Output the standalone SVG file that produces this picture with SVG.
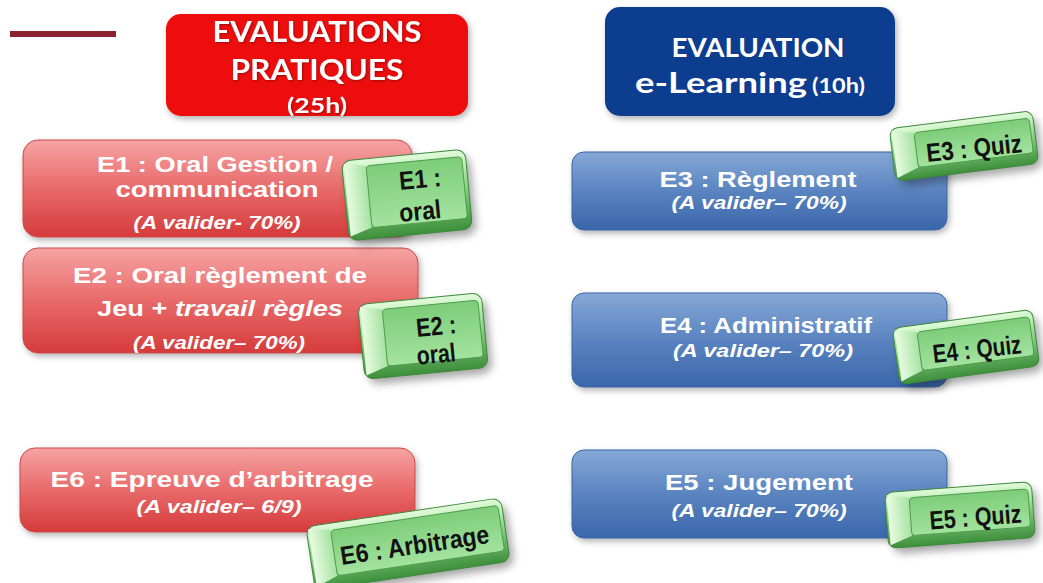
<svg xmlns="http://www.w3.org/2000/svg" width="1043" height="583" viewBox="0 0 1043 583">
<defs>
<style>
.hd{font-family:Lato,"Open Sans","Liberation Sans",sans-serif;font-weight:bold;fill:#fff;text-anchor:middle}
.mt{font-family:"Liberation Sans",Arial,sans-serif;font-weight:bold;fill:#fff;text-anchor:middle;font-size:22px}
.it{font-family:"Liberation Sans",Arial,sans-serif;font-weight:bold;font-style:italic;fill:#fff;text-anchor:middle;font-size:19px}
.kt{font-family:"Liberation Sans Narrow","Liberation Sans",Arial,sans-serif;font-weight:bold;fill:#111;text-anchor:middle;font-size:26px}
.rb{fill:url(#redG);stroke:#c94a4a;stroke-width:1}
.bb{fill:url(#bluG);stroke:#3a64a6;stroke-width:1}
.kb{fill:url(#kBody);stroke:#3d8a3b;stroke-width:1}
.kf{fill:url(#kFace);stroke:#4f9c4c;stroke-width:1}
.kl{fill:url(#kLeft)}
.ks{fill:#000;opacity:.35}
</style>
<linearGradient id="redG" x1="0" y1="0" x2="0" y2="1">
<stop offset="0" stop-color="#f6a3a3"/><stop offset="0.5" stop-color="#e86a6a"/><stop offset="1" stop-color="#d63b3b"/>
</linearGradient>
<linearGradient id="bluG" x1="0" y1="0" x2="0" y2="1">
<stop offset="0" stop-color="#86a8d6"/><stop offset="0.5" stop-color="#5a84c0"/><stop offset="1" stop-color="#3a66ab"/>
</linearGradient>
<linearGradient id="kBody" x1="0" y1="0" x2="0" y2="1">
<stop offset="0" stop-color="#e4fbdd"/><stop offset="0.3" stop-color="#a3e69e"/><stop offset="1" stop-color="#3e8f3c"/>
</linearGradient>
<linearGradient id="kFace" x1="0" y1="0" x2="0" y2="1">
<stop offset="0" stop-color="#7dcd79"/><stop offset="1" stop-color="#a3e39f"/>
</linearGradient>
<linearGradient id="kLeft" x1="0" y1="0" x2="1" y2="0">
<stop offset="0" stop-color="#e8fce2"/><stop offset="1" stop-color="#a6e2a1"/>
</linearGradient>
<filter id="sh" x="-10%" y="-10%" width="120%" height="130%">
<feDropShadow dx="2" dy="3" stdDeviation="3" flood-color="#000" flood-opacity="0.3"/>
</filter>
<filter id="blur" x="-20%" y="-30%" width="140%" height="160%">
<feGaussianBlur stdDeviation="4"/>
</filter>
<filter id="tsh" x="-5%" y="-20%" width="110%" height="140%">
<feDropShadow dx="1" dy="1" stdDeviation="0.8" flood-color="#000" flood-opacity="0.35"/>
</filter>
</defs>
<rect width="1043" height="583" fill="#fff"/>
<rect x="10" y="31" width="106" height="6" fill="#8b2332"/>

<g id="header-pratiques">
<rect x="166" y="14" width="302" height="102" rx="15" fill="#ee0808" filter="url(#sh)"/>
<g filter="url(#tsh)">
<text class="hd" x="317" y="42" font-size="28" textLength="209" lengthAdjust="spacingAndGlyphs">EVALUATIONS</text>
<text class="hd" x="317" y="80" font-size="28" textLength="173" lengthAdjust="spacingAndGlyphs">PRATIQUES</text>
<text class="hd" x="317" y="113" font-size="21" textLength="60" lengthAdjust="spacingAndGlyphs">(25h)</text>
</g>
</g>

<g id="header-elearning">
<rect x="605" y="7" width="290" height="109" rx="15" fill="#0c3c8f" filter="url(#sh)"/>
<text class="hd" x="758" y="57" font-size="27" textLength="173" lengthAdjust="spacingAndGlyphs">EVALUATION</text>
<text class="hd" x="721" y="93" font-size="29" textLength="172" lengthAdjust="spacingAndGlyphs">e-Learning</text>
<text class="hd" x="838.5" y="93" font-size="20" textLength="53" lengthAdjust="spacingAndGlyphs">(10h)</text>
</g>

<g id="E1">
<rect class="rb" x="23" y="140" width="389" height="97" rx="15" filter="url(#sh)"/>
<text class="mt" x="215" y="172" textLength="236" lengthAdjust="spacingAndGlyphs">E1 : Oral Gestion /</text>
<text class="mt" x="217" y="197" textLength="203" lengthAdjust="spacingAndGlyphs">communication</text>
<text class="it" x="217" y="229" textLength="167" lengthAdjust="spacingAndGlyphs">(A valider- 70%)</text>
</g>

<g id="E2">
<rect class="rb" x="23" y="248" width="395" height="105" rx="15" filter="url(#sh)"/>
<text class="mt" x="220" y="283" textLength="294" lengthAdjust="spacingAndGlyphs">E2 : Oral règlement de</text>
<text class="mt" x="220" y="316" textLength="246" lengthAdjust="spacingAndGlyphs">Jeu + <tspan font-style="italic">travail règles</tspan></text>
<text class="it" x="219" y="349" textLength="172" lengthAdjust="spacingAndGlyphs">(A valider– 70%)</text>
</g>

<g id="E6">
<rect class="rb" x="20" y="448" width="395" height="84" rx="15" filter="url(#sh)"/>
<text class="mt" x="212" y="487" textLength="323" lengthAdjust="spacingAndGlyphs">E6 : Epreuve d’arbitrage</text>
<text class="it" x="219" y="513" textLength="165" lengthAdjust="spacingAndGlyphs">(A valider– 6/9)</text>
</g>

<g id="E3">
<rect class="bb" x="572" y="152" width="375" height="78" rx="12" filter="url(#sh)"/>
<text class="mt" x="758" y="187" textLength="197" lengthAdjust="spacingAndGlyphs">E3 : Règlement</text>
<text class="it" x="759" y="209" textLength="175" lengthAdjust="spacingAndGlyphs">(A valider– 70%)</text>
</g>

<g id="E4">
<rect class="bb" x="572" y="293" width="375" height="94" rx="12" filter="url(#sh)"/>
<text class="mt" x="766" y="333" textLength="212" lengthAdjust="spacingAndGlyphs">E4 : Administratif</text>
<text class="it" x="763" y="357" textLength="180" lengthAdjust="spacingAndGlyphs">(A valider– 70%)</text>
</g>

<g id="E5">
<rect class="bb" x="572" y="450" width="375" height="88" rx="12" filter="url(#sh)"/>
<text class="mt" x="759" y="490" textLength="188" lengthAdjust="spacingAndGlyphs">E5 : Jugement</text>
<text class="it" x="759" y="517" textLength="175" lengthAdjust="spacingAndGlyphs">(A valider– 70%)</text>
</g>

<g id="key-E1">
<g transform="translate(407,195) rotate(-5.5)">
<rect class="ks" x="-58" y="-34" width="124" height="80" rx="10" filter="url(#blur)"/>
<rect class="kb" x="-62" y="-40" width="124" height="80" rx="9"/>
<path class="kl" d="M-60,-37 L-38,-33 L-38,29 L-60,36 Z"/>
<rect class="kf" x="-38" y="-33" width="96" height="62" rx="4"/>
</g>
<text class="kt" transform="translate(421,188) rotate(-5.5)" textLength="42" lengthAdjust="spacingAndGlyphs">E1 :</text>
<text class="kt" transform="translate(421,220) rotate(-5.5)" textLength="42" lengthAdjust="spacingAndGlyphs">oral</text>
</g>

<g id="key-E2">
<g transform="translate(423,336) rotate(-5.5)">
<rect class="ks" x="-58" y="-31.5" width="124" height="75" rx="10" filter="url(#blur)"/>
<rect class="kb" x="-62" y="-37.5" width="124" height="75" rx="9"/>
<path class="kl" d="M-60,-35 L-38,-30.5 L-38,26.5 L-60,34 Z"/>
<rect class="kf" x="-38" y="-30.5" width="96" height="57" rx="4"/>
</g>
<text class="kt" transform="translate(437,335) rotate(-5.5)" textLength="40" lengthAdjust="spacingAndGlyphs">E2 :</text>
<text class="kt" transform="translate(437,363) rotate(-5.5)" textLength="39" lengthAdjust="spacingAndGlyphs">oral</text>
</g>

<g id="key-E6">
<g transform="translate(408,544) rotate(-8.5)">
<rect class="ks" x="-94.5" y="-26" width="197" height="64" rx="10" filter="url(#blur)"/>
<rect class="kb" x="-98.5" y="-32" width="197" height="64" rx="9"/>
<path class="kl" d="M-96.5,-29.5 L-74.5,-25 L-74.5,21 L-96.5,29 Z"/>
<rect class="kf" x="-74.5" y="-25" width="169" height="46" rx="4"/>
</g>
<text class="kt" font-size="28" transform="translate(416,554) rotate(-8.5)" textLength="150" lengthAdjust="spacingAndGlyphs">E6 : Arbitrage</text>
</g>

<g id="key-E3">
<g transform="translate(964,146) rotate(-7.2)">
<rect class="ks" x="-68" y="-20.5" width="144" height="53" rx="10" filter="url(#blur)"/>
<rect class="kb" x="-72" y="-26.5" width="144" height="53" rx="8"/>
<path class="kl" d="M-70,-24 L-48,-19.5 L-48,15.5 L-70,23.5 Z"/>
<rect class="kf" x="-48" y="-19.5" width="116" height="35" rx="4"/>
</g>
<text class="kt" transform="translate(975,157) rotate(-6)" textLength="96" lengthAdjust="spacingAndGlyphs">E3 : Quiz</text>
</g>

<g id="key-E4">
<g transform="translate(966,347) rotate(-7.7)">
<rect class="ks" x="-66.5" y="-22.5" width="141" height="57" rx="10" filter="url(#blur)"/>
<rect class="kb" x="-70.5" y="-28.5" width="141" height="57" rx="8"/>
<path class="kl" d="M-68.5,-26 L-46.5,-21.5 L-46.5,17.5 L-68.5,25.5 Z"/>
<rect class="kf" x="-46.5" y="-21.5" width="113" height="39" rx="4"/>
</g>
<text class="kt" transform="translate(978,358) rotate(-6.5)" textLength="89" lengthAdjust="spacingAndGlyphs">E4 : Quiz</text>
</g>

<g id="key-E5">
<g transform="translate(960,515) rotate(-4.3)">
<rect class="ks" x="-69.5" y="-22" width="147" height="56" rx="10" filter="url(#blur)"/>
<rect class="kb" x="-73.5" y="-28" width="147" height="56" rx="8"/>
<path class="kl" d="M-71.5,-25.5 L-49.5,-21 L-49.5,17 L-71.5,25 Z"/>
<rect class="kf" x="-49.5" y="-21" width="119" height="38" rx="4"/>
</g>
<text class="kt" transform="translate(976,526) rotate(-4.5)" textLength="92" lengthAdjust="spacingAndGlyphs">E5 : Quiz</text>
</g>

<g id="connectors"/>
</svg>
